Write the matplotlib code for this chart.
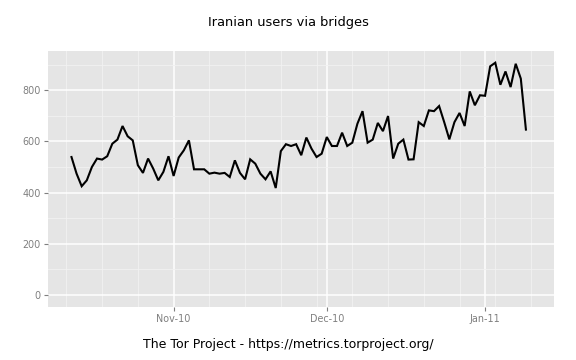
import matplotlib
matplotlib.use("Agg")
import matplotlib.pyplot as plt
import matplotlib.dates as mdates
import pandas as pd

# daily users, 2010-10-12 .. 2011-01-09
start_date = "2010-10-12"
users = [
    539, 474, 425, 448, 500, 533, 529, 542, 591, 607,
    660, 620, 604, 507, 477, 533, 494, 448, 481, 542,
    465, 537, 565, 604, 491, 491, 491, 474, 478, 474,
    477, 461, 526, 477, 452, 530, 513, 474, 452, 483,
    418, 562, 589, 582, 589, 546, 615, 572, 539, 552,
    617, 582, 582, 634, 582, 595, 669, 718, 595, 607,
    672, 640, 699, 533, 591, 607, 529, 530, 675, 660,
    721, 718, 738, 675, 608, 675, 711, 660, 795, 741,
    780, 778, 893, 907, 821, 873, 812, 903, 845, 646,
]
y_ticks = [0, 200, 400, 600, 800]
y_minor = [100, 300, 500, 700, 900]

dates = pd.date_range(start_date, periods=len(users), freq="D")

GREY50 = "#7F7F7F"

fig = plt.figure(figsize=(5.76, 3.6), dpi=100)
ax = fig.add_axes([0.0842, 0.148, 0.8776, 0.710])
ax.set_facecolor("#E5E5E5")
for s in ax.spines.values():
    s.set_visible(False)

ax.plot(dates, users, color="black", linewidth=1.5, solid_joinstyle="miter")

ymax = max(users)
ax.set_ylim(-0.05 * ymax, 1.05 * ymax)
ax.set_xlim(dates[0] - pd.Timedelta(hours=108), dates[-1] + pd.Timedelta(hours=132))

ax.set_yticks(y_ticks)
ax.set_yticks(y_minor, minor=True)
ax.xaxis.set_major_locator(mdates.MonthLocator())
ax.xaxis.set_major_formatter(mdates.DateFormatter("%b-%y"))
ax.xaxis.set_minor_locator(mdates.WeekdayLocator(byweekday=mdates.MO))

ax.grid(which="major", color="white", linewidth=1.1)
ax.grid(which="minor", color="#F2F2F2", linewidth=0.6)
ax.set_axisbelow(True)

ax.tick_params(which="major", length=3, width=0.8, color=GREY50,
               labelcolor=GREY50, labelsize=6.9, pad=2.5)
ax.tick_params(which="minor", length=0)

fig.text(0.5, 0.937, "Iranian users via bridges", ha="center", va="center",
         fontsize=9.4, color="black")
fig.text(0.5, 0.042, "The Tor Project - https://metrics.torproject.org/",
         ha="center", va="center", fontsize=9.0, color="black")

fig.savefig("out.png", dpi=100, facecolor="white")
